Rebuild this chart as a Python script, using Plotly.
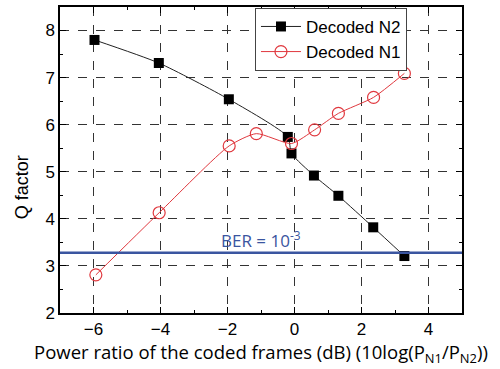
import plotly.graph_objects as go

n2_x = [-5.97, -4.05, -1.96, -0.2, -0.09, 0.58, 1.31, 2.35, 3.28]
n2_y = [7.80, 7.31, 6.54, 5.74, 5.39, 4.92, 4.49, 3.82, 3.21]
n1_x = [-5.93, -4.04, -1.95, -1.14, -0.09, 0.6, 1.31, 2.36, 3.28]
n1_y = [2.81, 4.13, 5.55, 5.81, 5.60, 5.89, 6.24, 6.58, 7.09]
ber_level = 3.28
x_ticks = [-6, -4, -2, 0, 2, 4]
y_ticks = [2, 3, 4, 5, 6, 7, 8]

fig = go.Figure()
fig.add_trace(go.Scatter(x=n2_x, y=n2_y, mode="lines+markers", name="Decoded N2",
                         line=dict(color="#222222", width=1, shape="spline", smoothing=0.6),
                         marker=dict(symbol="square", size=10, color="black")))
fig.add_trace(go.Scatter(x=n1_x, y=n1_y, mode="lines+markers", name="Decoded N1",
                         line=dict(color="#e0383e", width=1, shape="spline", smoothing=0.6),
                         marker=dict(symbol="circle-open", size=12, color="#e0383e", line=dict(width=1.2))))
fig.add_hline(y=ber_level, line=dict(color="#3a55a0", width=2.5))
fig.add_annotation(x=-1.0, y=ber_level, yshift=13, text="BER = 10<sup>-3</sup>", showarrow=False,
                   font=dict(family="Open Sans", size=17, color="#3a55a0"))
fig.add_annotation(xref="paper", yref="paper", x=-0.095, y=0.41, xanchor="center", yanchor="middle",
                   text="Q factor", textangle=-90, showarrow=False,
                   font=dict(family="Arial", size=18, color="black"))

axis_common = dict(showline=True, linecolor="black", linewidth=1.5, mirror="allticks",
                   ticks="inside", ticklen=6, tickcolor="black", automargin=False,
                   showgrid=True, gridcolor="#333333", griddash="dash", gridwidth=1,
                   zeroline=False, tickfont=dict(family="Arial", size=17, color="black"))
fig.update_xaxes(range=[-7, 5], tickvals=x_ticks,
                 minor=dict(dtick=1, ticks="inside", ticklen=3, tickcolor="black", showgrid=False),
                 title=dict(text="Power ratio of the coded frames (dB) (10log(P<sub>N1</sub>/P<sub>N2</sub>))",
                            font=dict(family="Open Sans", size=18.5, color="black"), standoff=2),
                 **axis_common)
fig.update_yaxes(range=[2, 8.5], tickvals=y_ticks,
                 minor=dict(dtick=0.5, ticks="inside", ticklen=3, tickcolor="black", showgrid=False),
                 **axis_common)
fig.update_layout(width=500, height=369, margin=dict(l=60, r=38, t=7, b=56),
                  plot_bgcolor="white", paper_bgcolor="white",
                  legend=dict(x=0.485, y=0.997, xanchor="left", yanchor="top",
                              bgcolor="white", bordercolor="#444444", borderwidth=1,
                              font=dict(family="Arial", size=17, color="black"),
                              tracegroupgap=0, itemwidth=40))
fig.write_html("out.html", post_script="document.body.style.margin='0';",
               config={"displayModeBar": False})
